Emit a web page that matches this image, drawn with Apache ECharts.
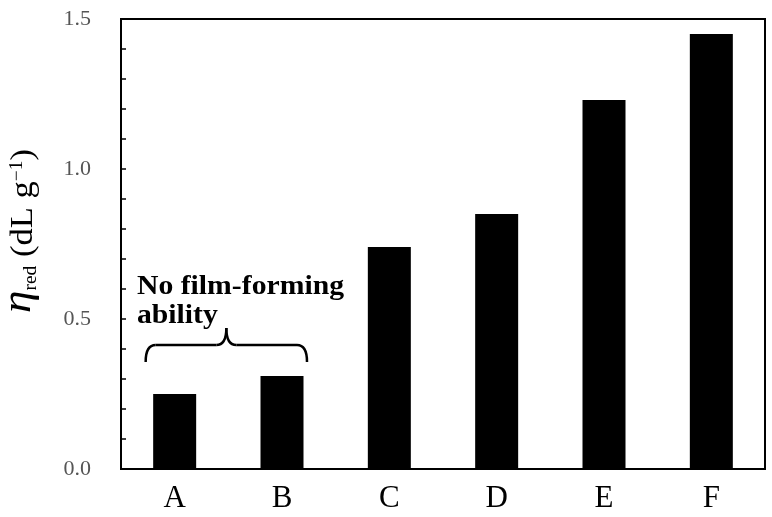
<!DOCTYPE html>
<html>
<head>
<meta charset="utf-8">
<script src="https://cdn.jsdelivr.net/npm/echarts@6/dist/echarts.min.js"></script>
<style>
  html, body { margin: 0; padding: 0; background: #fff; }
  #chart { width: 772px; height: 517px; }
</style>
</head>
<body>
<div id="chart"></div>
<script>
"use strict";

var samples = ["A", "B", "C", "D", "E", "F"];
var etaRed = [0.25, 0.31, 0.74, 0.85, 1.23, 1.45];
var yTicks = [0, 0.5, 1.0, 1.5];
var noteLines = ["No film-forming", "ability"];

var chart = echarts.init(document.getElementById("chart"));
var serif = "'Liberation Serif', 'Times New Roman', serif";

var option = {
    animation: false,
    grid: { left: 121, right: 7, top: 19, bottom: 48, show: true, borderColor: "#000", borderWidth: 2, backgroundColor: "transparent" },
    xAxis: {
        type: "category",
        data: samples,
        axisLine: { lineStyle: { color: "#000", width: 2 } },
        axisTick: { show: false },
        axisLabel: { color: "#000", fontFamily: serif, fontSize: 31, margin: 14 }
    },
    yAxis: {
        type: "value",
        min: yTicks[0],
        max: yTicks[yTicks.length - 1],
        interval: 0.5,
        splitLine: { show: false },
        axisLine: { show: true, lineStyle: { color: "#000", width: 2 } },
        axisTick: { show: true, inside: true, length: 5, lineStyle: { color: "#000", width: 1.5 } },
        minorTick: { show: true, splitNumber: 5, length: 5, lineStyle: { color: "#000", width: 1.5 } },
        axisLabel: {
            color: "#555", fontFamily: serif, fontSize: 22, margin: 30,
            formatter: function(v) { return v.toFixed(1); }
        }
    },
    series: [{
        type: "bar",
        data: etaRed,
        barWidth: 43,
        itemStyle: { color: "#000" }
    }]
};
chart.setOption(option);

function addNotes() {
    var xa = chart.convertToPixel({ xAxisIndex: 0 }, samples[0]);
    var xb = chart.convertToPixel({ xAxisIndex: 0 }, samples[1]);
    var y0 = chart.convertToPixel({ yAxisIndex: 0 }, 0.357);
    var yl = chart.convertToPixel({ yAxisIndex: 0 }, 0.413);
    var yt = chart.convertToPixel({ yAxisIndex: 0 }, 0.47);
    var x0 = xa - 29, x1 = xb + 25, xm = (x0 + x1) / 2, r = 10;
    var stroke = { fill: null, stroke: "#000", lineWidth: 2.5 };
    function curve(ax, ay, bx, by, cx, cy) {
        return { type: "bezierCurve", shape: { x1: ax, y1: ay, x2: bx, y2: by, cpx1: cx, cpy1: cy }, style: stroke };
    }
    function seg(ax, ay, bx, by) {
        return { type: "line", shape: { x1: ax, y1: ay, x2: bx, y2: by }, style: stroke };
    }
    var noteFont = "bold 27px " + serif;
    chart.setOption({
        graphic: [
            curve(x0, y0, x0 + r, yl, x0, yl),
            seg(x0 + r, yl, xm - r, yl),
            curve(xm - r, yl, xm, yt, xm, yl),
            curve(xm, yt, xm + r, yl, xm, yl),
            seg(xm + r, yl, x1 - r, yl),
            curve(x1 - r, yl, x1, y0, x1, yl),
            {
                type: "text", x: 137, y: 274, scaleX: 1.1,
                style: { text: noteLines[0], font: noteFont, fill: "#000", verticalAlign: "top" }
            },
            {
                type: "text", x: 137, y: 303, scaleX: 1.1,
                style: { text: noteLines[1], font: noteFont, fill: "#000", verticalAlign: "top" }
            },
            {
                type: "text",
                x: 19, y: 231,
                rotation: Math.PI / 2,
                scaleX: 1.08,
                style: {
                    text: "{eta|η}{sub|red}{u| (dL g}{sup|−1}{u|)}",
                    align: "center",
                    verticalAlign: "middle",
                    fill: "#000",
                    rich: {
                        eta: { fontFamily: serif, fontStyle: "italic", fontWeight: "normal", fontSize: 42, fill: "#000", verticalAlign: "bottom" },
                        sub: { fontFamily: serif, fontWeight: "normal", fontSize: 18, fill: "#000", verticalAlign: "bottom" },
                        u: { fontFamily: serif, fontWeight: "normal", fontSize: 32, fill: "#000", verticalAlign: "bottom" },
                        sup: { fontFamily: serif, fontWeight: "normal", fontSize: 18, fill: "#000", verticalAlign: "bottom", padding: [0, 0, 14, 0] }
                    }
                }
            }
        ]
    });
}
addNotes();
</script>
</body>
</html>
